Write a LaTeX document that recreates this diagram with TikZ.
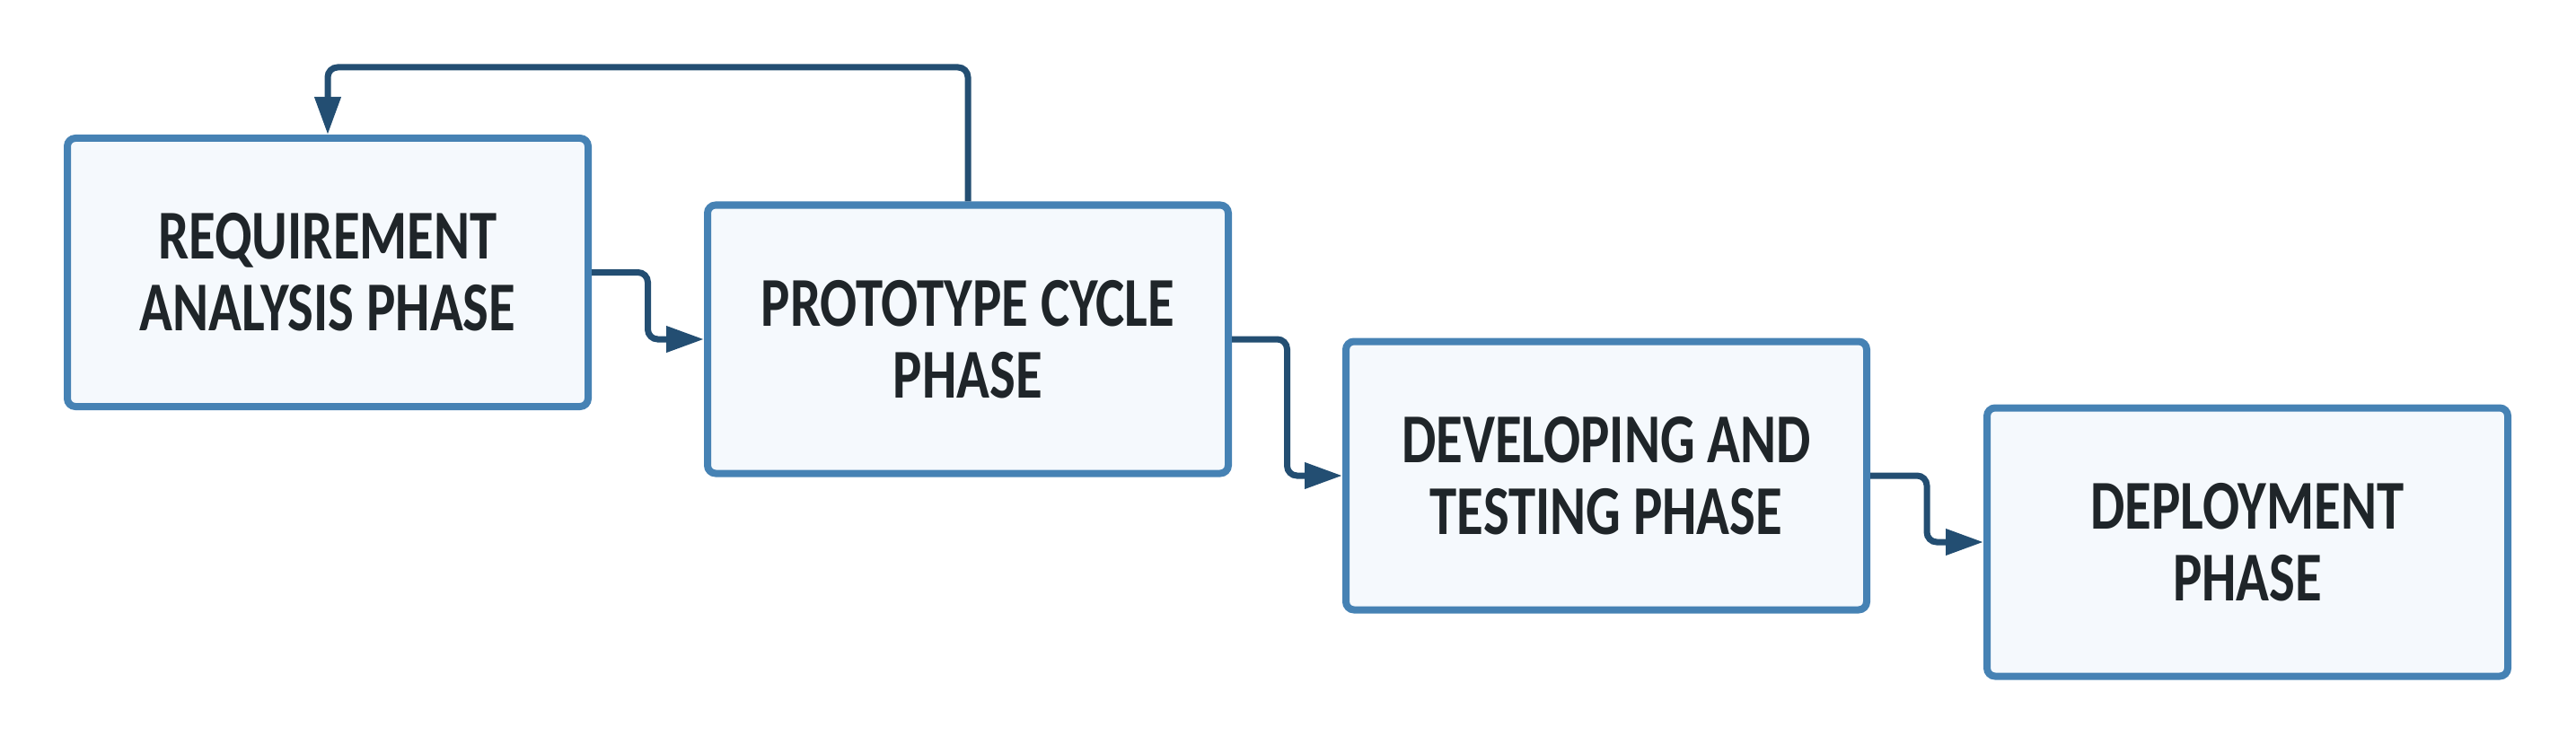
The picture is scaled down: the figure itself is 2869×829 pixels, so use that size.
\documentclass[tikz,border=0pt]{standalone}
\usepackage{fontspec}
\usetikzlibrary{arrows.meta,calc}
\newfontfamily\boxfont[FakeStretch=0.78]{Carlito}
\definecolor{boxfill}{HTML}{F5F9FD}
\definecolor{boxline}{HTML}{4682B4}
\definecolor{connline}{HTML}{234E72}
\definecolor{txt}{HTML}{1F2529}
\tikzset{
  phasebox/.style={draw=boxline, fill=boxfill, line width=8pt, rounded corners=9pt,
    minimum width=580pt, minimum height=299pt, inner sep=0pt, align=center,
    text=txt, font=\boxfont\bfseries\fontsize{78}{80}\selectfont},
  conn/.style={draw=connline, line width=7pt, rounded corners=11pt,
    -{Triangle[length=42pt,width=28pt]}}
}
\begin{document}
\begin{tikzpicture}[x=1pt,y=-1pt]
\useasboundingbox (0,0) rectangle (2869,829);
\node[phasebox] (a) at (365,303.5) {REQUIREMENT\\ANALYSIS PHASE};
\node[phasebox] (b) at (1078,378) {PROTOTYPE CYCLE\\PHASE};
\node[phasebox] (c) at (1789,530) {DEVELOPING AND\\TESTING PHASE};
\node[phasebox] (d) at (2503,604) {DEPLOYMENT\\PHASE};
\coordinate (m1) at ($(a.east)!0.5!(b.west)$);
\coordinate (m2) at ($(b.east)!0.5!(c.west)$);
\coordinate (m3) at ($(c.east)!0.5!(d.west)$);
\coordinate (top) at (0,75);
\draw[conn] (a.east) -- (a.east -| m1) -- (b.west -| m1) -- (b.west);
\draw[conn] (b.east) -- (b.east -| m2) -- (c.west -| m2) -- (c.west);
\draw[conn] (c.east) -- (c.east -| m3) -- (d.west -| m3) -- (d.west);
\draw[conn] (b.north) -- (b.north |- top) -- (a.north |- top) -- (a.north);
\end{tikzpicture}
\end{document}
